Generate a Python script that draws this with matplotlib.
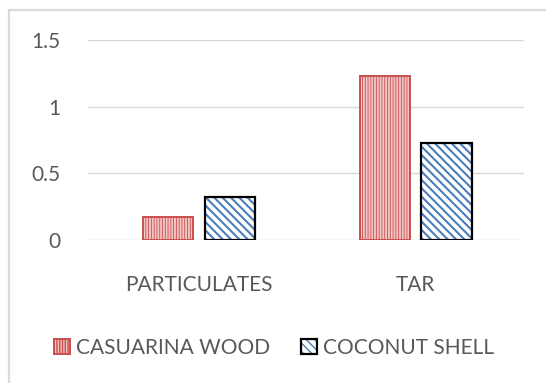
import matplotlib
matplotlib.use("Agg")
import matplotlib.pyplot as plt
from matplotlib.patches import Rectangle
from matplotlib.legend_handler import HandlerTuple
import numpy as np

categories = ["PARTICULATES", "TAR"]
casuarina_wood = [0.17, 1.23]
coconut_shell = [0.32, 0.73]
series_names = ["CASUARINA WOOD", "COCONUT SHELL"]
y_ticks = [0, 0.5, 1, 1.5]
y_tick_labels = ["0", "0.5", "1", "1.5"]

plt.rcParams["font.family"] = ["Lato", "DejaVu Sans"]
TEXT = "#595959"

W, H = 546, 383
fig = plt.figure(figsize=(W / 100, H / 100), dpi=100)
fig.patch.set_facecolor("white")

# light chart-area border (runs off the right and bottom edges)
fig.add_artist(Rectangle((9 / W, -0.1), 1.2, 1 - 10 / H + 0.1,
                         transform=fig.transFigure, fill=False,
                         edgecolor="#d9d9d9", linewidth=1.6))

ax = fig.add_axes([88 / W, 1 - 240 / H, (524 - 88) / W, 200 / H])
x = np.arange(len(categories))
width = 0.231
off = 0.143

red_edge = "#c9504e"
pink = "#f2c4c4"
blue = "#4a7ebb"

def hatched(ax, xs, vals, face, hatch, hcolor, edge, lw_edge, hlw):
    bars = ax.bar(xs, vals, width, color=face, hatch=hatch, edgecolor=hcolor,
                  linewidth=0, zorder=2)
    for b in bars:
        if hasattr(b, "set_hatch_linewidth"):
            b.set_hatch_linewidth(hlw)
    outline = ax.bar(xs, vals, width, fill=False, edgecolor=edge,
                     linewidth=lw_edge, zorder=3)
    return bars, outline

with plt.rc_context({"hatch.linewidth": 0.6}):
    c_fill, c_out = hatched(ax, x - off, casuarina_wood, pink, "||||||",
                            red_edge, red_edge, 1.4, 0.6)
with plt.rc_context({"hatch.linewidth": 1.5}):
    k_fill, k_out = hatched(ax, x + off, coconut_shell, "white", "\\\\\\\\",
                            blue, "black", 1.6, 1.5)

ax.set_xlim(-0.513, 1.501)
ax.set_ylim(0, 1.5)
ax.set_yticks(y_ticks)
ax.set_yticklabels(y_tick_labels)
ax.set_xticks(x)
ax.set_xticklabels(categories)
ax.yaxis.grid(True, color="#d9d9d9", linewidth=1.0, zorder=0)
ax.set_axisbelow(True)
for s in ax.spines.values():
    s.set_visible(False)
ax.tick_params(axis="both", length=0, colors=TEXT, labelsize=15)
ax.tick_params(axis="y", pad=20)
ax.tick_params(axis="x", pad=25)

leg = fig.legend([(c_fill[0], c_out[0]), (k_fill[0], k_out[0])], series_names,
                 handler_map={tuple: HandlerTuple(ndivide=1)},
                 loc="center", bbox_to_anchor=(274 / W, 1 - 348 / H),
                 ncol=2, frameon=False, fontsize=15, labelcolor=TEXT,
                 handlelength=0.75, handleheight=0.75, handletextpad=0.3,
                 columnspacing=1.5)

fig.savefig("out.png", dpi=100, facecolor="white")
